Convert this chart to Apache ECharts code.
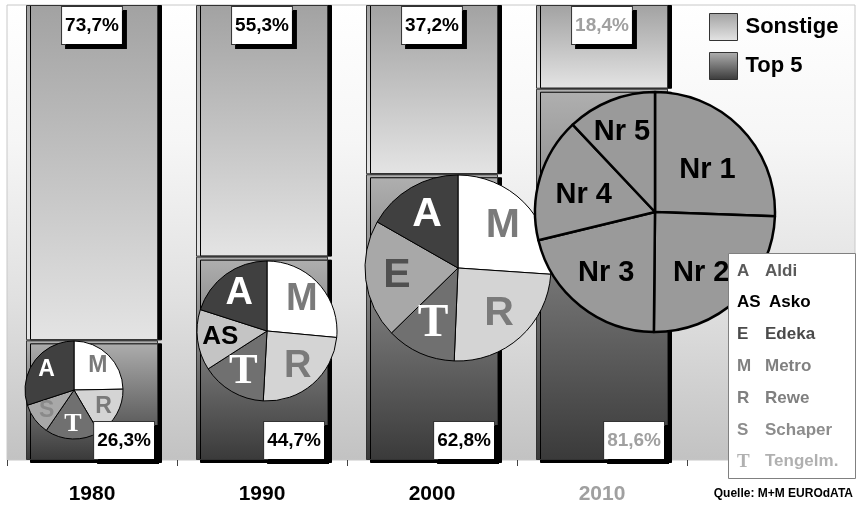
<!DOCTYPE html>
<html>
<head>
<meta charset="utf-8">
<style>
html,body{margin:0;padding:0;background:#fff}
#main{width:857px;height:506px}
</style>
<script src="https://cdn.jsdelivr.net/npm/echarts@6/dist/echarts.min.js"></script>
</head>
<body>
<div id="main"></div>
<script>
// Anteile Top 5 / Sonstige
const years = ['1980', '1990', '2000', '2010']
const top5 = [26.3, 44.7, 62.8, 81.6]
const sonstige = [73.7, 55.3, 37.2, 18.4]

// Tortendiagramme, im Uhrzeigersinn ab 12 Uhr
const pie1980Names = ['M', 'R', 'T', 'S', 'A']
const pie1980Values = [24.7, 16.8, 18, 10.4, 30]
const pie1990Names = ['M', 'R', 'T', 'AS', 'A']
const pie1990Values = [26.4, 24.3, 15, 14, 20]
const pie2000Names = ['M', 'R', 'T', 'E', 'A']
const pie2000Values = [26, 24.5, 12, 20.5, 16.7]
const pie2010Names = ['Nr 1', 'Nr 2', 'Nr 3', 'Nr 4', 'Nr 5']
const pie2010Values = [25.5, 24.5, 21, 16.7, 12]

// Legende der Kuerzel
const letters = ['A', 'AS', 'E', 'M', 'R', 'S', 'T']
const companies = ['Aldi', 'Asko', 'Edeka', 'Metro', 'Rewe', 'Schaper', 'Tengelm.']

const FONT = 'Liberation Sans'
const SERIF = 'Liberation Serif'

const sliceStyle = {
  A: { fill: '#404040', text: '#ffffff' },
  M: { fill: '#ffffff', text: '#7a7a7a' },
  R: { fill: '#d4d4d4', text: '#7a7a7a' },
  T: { fill: '#707070', text: '#ffffff', serif: true },
  S: { fill: '#a8a8a8', text: '#8a8a8a' },
  AS: { fill: '#c4c4c4', text: '#000000' },
  E: { fill: '#a8a8a8', text: '#505050' }
}
const listColors = ['#5a5a5a', '#000000', '#4a4a4a', '#808080', '#808080', '#8c8c8c', '#b0b0b0']

function fmt(v) {
  return v.toFixed(1).replace('.', ',') + '%'
}

function grad(c1, c2) {
  return new echarts.graphic.LinearGradient(0, 0, 0, 1, [
    { offset: 0, color: c1 },
    { offset: 1, color: c2 }
  ])
}

// Fuellung (ohne Text) + transparente Ringlage fuer die Beschriftung
function pieSeries(names, values, center, r, fontSize, lineW, opts) {
  opts = opts || {}
  const fill = {
    type: 'pie',
    center: center,
    radius: r,
    startAngle: 90,
    clockwise: true,
    silent: true,
    label: { show: false },
    labelLine: { show: false },
    itemStyle: { borderColor: '#000', borderWidth: lineW },
    data: names.map((n, i) => ({
      name: n,
      value: values[i],
      itemStyle: { color: opts.fill || sliceStyle[n].fill }
    }))
  }
  const text = {
    type: 'pie',
    center: center,
    radius: [Math.round(r * 0.26), r],
    startAngle: 90,
    clockwise: true,
    silent: true,
    itemStyle: { color: 'rgba(0,0,0,0)', borderWidth: 0 },
    labelLine: { show: false },
    label: {
      show: true,
      position: 'inside',
      formatter: '{b}',
      fontFamily: FONT,
      fontWeight: 'bold',
      fontSize: fontSize
    },
    data: names.map((n, i) => {
      const st = sliceStyle[n]
      const lab = { color: opts.textColor || st.text }
      if (st && st.serif) {
        lab.fontFamily = SERIF
        lab.fontSize = Math.round(fontSize * 1.12)
      }
      if (st && n === 'AS') lab.fontSize = Math.round(fontSize * 0.68)
      if (opts.offsets && opts.offsets[i]) lab.offset = opts.offsets[i]
      return { name: n, value: values[i], label: lab }
    })
  }
  return [fill, text]
}

const chart = echarts.init(document.getElementById('main'), null, { renderer: 'canvas' })

const boxLabel = {
  show: true,
  fontFamily: FONT,
  fontWeight: 'bold',
  fontSize: 19,
  color: '#000',
  backgroundColor: '#fff',
  borderColor: '#333',
  borderWidth: 1,
  padding: [9, 3, 9, 3],
  shadowColor: '#000',
  shadowOffsetX: 4,
  shadowOffsetY: 4,
  shadowBlur: 0,
  formatter: p => fmt(p.value)
}

const listGraphics = []
letters.forEach((l, i) => {
  const y = 271 + i * 31.8
  listGraphics.push({
    type: 'text', x: 737, y: y, z: 101,
    style: {
      text: l, fill: listColors[i],
      font: 'bold ' + (l === 'T' ? '19px "' + SERIF + '"' : '17px "' + FONT + '"'),
      textVerticalAlign: 'middle'
    }
  })
  listGraphics.push({
    type: 'text', x: l === 'AS' ? 769 : 765, y: y, z: 101,
    style: {
      text: companies[i], fill: listColors[i],
      font: 'bold 17px "' + FONT + '"',
      textVerticalAlign: 'middle'
    }
  })
})

const sonstigeColor = () => grad('#a2a2a2', '#e4e4e4')
const top5Color = () => grad('#b0b0b0', '#3a3a3a')

const option = {
  animation: false,
  backgroundColor: '#fff',
  textStyle: { fontFamily: FONT },
  grid: { left: 7, right: 170, top: 5, bottom: 46 },
  legend: {
    data: [
      { name: 'Sonstige', itemStyle: { color: sonstigeColor(), borderColor: '#333', borderWidth: 1 } },
      { name: 'Top 5', itemStyle: { color: top5Color(), borderColor: '#333', borderWidth: 1 } }
    ],
    orient: 'vertical',
    left: 704,
    top: 8,
    icon: 'rect',
    itemWidth: 28,
    itemHeight: 27,
    itemGap: 11,
    selectedMode: false,
    textStyle: { fontFamily: FONT, fontWeight: 'bold', fontSize: 22, color: '#000', padding: [0, 0, 0, 3] }
  },
  xAxis: {
    type: 'category',
    data: years,
    axisLine: { show: false },
    axisTick: { show: true, length: 6, lineStyle: { color: '#444' } },
    axisLabel: {
      margin: 24,
      fontFamily: FONT,
      fontWeight: 'bold',
      fontSize: 21,
      color: (v, i) => (i === 3 ? '#a0a0a0' : '#000')
    }
  },
  yAxis: { type: 'value', min: 0, max: 100, show: false, splitLine: { show: false } },
  graphic: [
    {
      type: 'rect', z: -10, silent: true,
      shape: { x: 7, y: 5, width: 848, height: 455 },
      style: {
        fill: new echarts.graphic.LinearGradient(0, 0, 0, 1, [
          { offset: 0, color: '#ffffff' },
          { offset: 0.3, color: '#f6f6f6' },
          { offset: 0.65, color: '#e0e0e0' },
          { offset: 1, color: '#c2c2c2' }
        ]),
        stroke: '#c8c8c8', lineWidth: 1
      }
    },
    {
      type: 'rect', z: 100, silent: true,
      shape: { x: 728.5, y: 253.5, width: 127, height: 225 },
      style: { fill: '#fff', stroke: '#808080', lineWidth: 1 }
    },
    ...listGraphics,
    {
      type: 'text', x: 853, y: 494, z: 100,
      style: {
        text: 'Quelle: M+M EUROdATA', fill: '#000',
        font: 'bold 12px "' + FONT + '"',
        textAlign: 'right', textVerticalAlign: 'middle'
      }
    }
  ],
  series: [
    {
      name: 'Top 5',
      type: 'bar',
      stack: 'all',
      barWidth: 132,
      itemStyle: {
        color: top5Color(),
        borderColor: '#333', borderWidth: 1,
        shadowColor: '#000', shadowOffsetX: 4, shadowOffsetY: 3, shadowBlur: 0
      },
      label: Object.assign({}, boxLabel, { position: 'insideBottomRight', distance: 1, offset: [-3, 0] }),
      data: top5.map((v, i) => (i === 3 ? { value: v, label: { color: '#a0a0a0' } } : v))
    },
    {
      name: 'Sonstige',
      type: 'bar',
      stack: 'all',
      barWidth: 132,
      itemStyle: {
        color: sonstigeColor(),
        borderColor: '#333', borderWidth: 1,
        shadowColor: '#000', shadowOffsetX: 4, shadowOffsetY: 0, shadowBlur: 0
      },
      label: Object.assign({}, boxLabel, { position: 'insideTop', distance: 2 }),
      data: sonstige.map((v, i) => (i === 3 ? { value: v, label: { color: '#a0a0a0' } } : v))
    },
    ...pieSeries(pie1980Names, pie1980Values, [74, 390], 49, 23, 1),
    ...pieSeries(pie1990Names, pie1990Values, [267, 331], 70, 38, 1),
    ...pieSeries(pie2000Names, pie2000Values, [458, 268], 93, 41, 1),
    ...pieSeries(pie2010Names, pie2010Values, [655, 212], 120, 29, 2.5, {
      fill: '#9a9a9a', textColor: '#000',
      offsets: [[-4, 12], [-8, 4], null, [4, 5], [-4, -7]]
    })
  ]
}

chart.setOption(option)
</script>
</body>
</html>
